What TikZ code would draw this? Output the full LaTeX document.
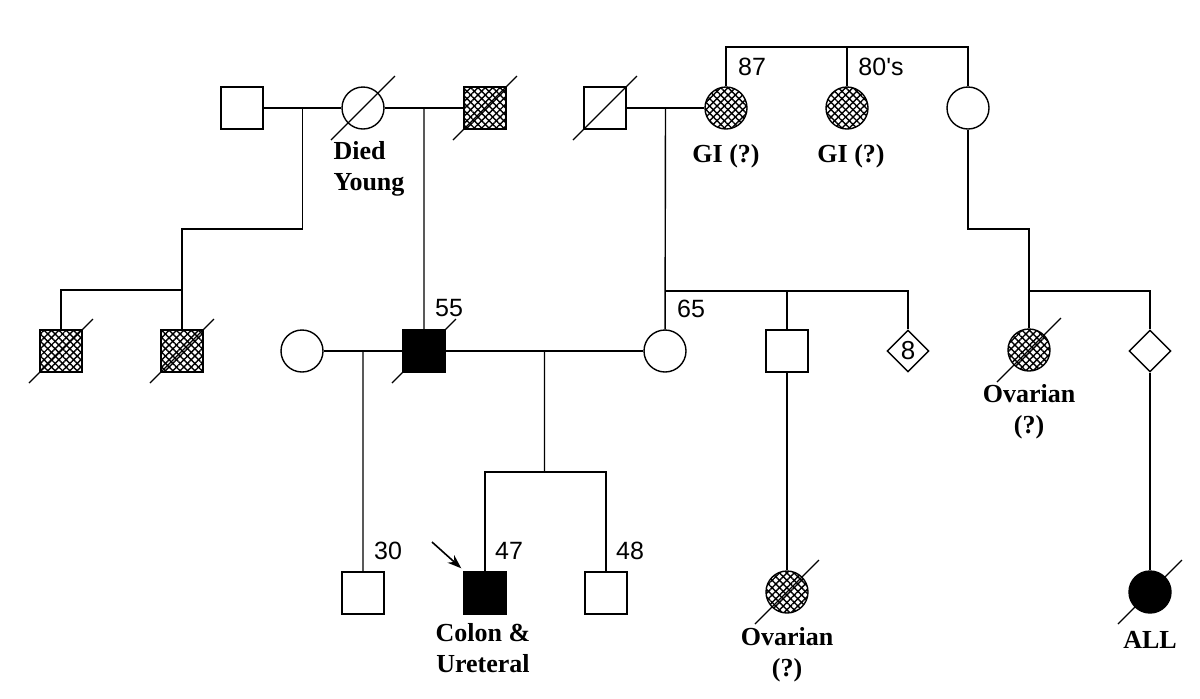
\documentclass[tikz,border=0pt]{standalone}
\usepackage{fontspec}
\setmainfont{Liberation Serif}
\newfontfamily\agefont{Liberation Sans}
\usetikzlibrary{calc,patterns.meta,arrows.meta,shapes.geometric}
\tikzset{
  person/.style={draw,line width=0.7pt,inner sep=0pt,minimum size=21pt},
  male/.style={person,rectangle},
  female/.style={person,circle},
  unknown/.style={person,diamond,aspect=1},
  affected/.style={fill=black},
  hatched/.style={preaction={pattern={Lines[angle=45,distance=2.6pt,line width=0.7pt]}},
    pattern={Lines[angle=-45,distance=2.6pt,line width=0.7pt]}},
  lbl/.style={font=\bfseries\fontsize{13}{15.5}\selectfont,align=center,inner sep=0pt},
  age/.style={font=\agefont\fontsize{12.5}{14}\selectfont,inner sep=0pt},
}
\begin{document}
\begin{tikzpicture}[x=0.5pt,y=-0.5pt,line width=0.7pt]
	\useasboundingbox[fill=white] (0,0) rectangle (1200,698);
	% generation I
	\node[male] (gf1) at (242,108) {};
	\node[female] (gm1) at (363,108) {};
	\node[male,hatched] (gf2) at (485,108) {};
	\node[male] (gf3) at (605,108) {};
	\node[female,hatched] (ga1) at (726,108) {};
	\node[female,hatched] (ga2) at (847,108) {};
	\node[female] (ga3) at (968,108) {};
	% generation II
	\node[male,hatched] (u1) at (61,351) {};
	\node[male,hatched] (u2) at (182,351) {};
	\node[female] (w1) at (302,351) {};
	\node[male,affected] (fa) at (424,351) {};
	\node[female] (mo) at (665,351) {};
	\node[male] (unc) at (787,351) {};
	\node[unknown,font=\agefont\fontsize{13}{14}\selectfont] (sibs) at (908,351) {8};
	\node[female,hatched] (cs1) at (1029,350) {};
	\node[unknown] (cs2) at (1150,351) {};
	% generation III
	\node[male] (hb) at (363,593) {};
	\node[male,affected] (pro) at (485,593) {};
	\node[male] (br) at (606,593) {};
	\node[female,hatched] (cs3) at (787,592) {};
	\node[female,affected] (cs4) at (1150,592) {};
	% deceased
	\foreach \n in {gm1,gf2,gf3,u1,u2,fa,cs1,cs3,cs4}
		\draw [line width=0.6pt] ([shift={(-32,32)}]\n.center) -- ([shift={(32,-32)}]\n.center);
	% marriages
	\draw (gf1) -- (gm1);
	\draw (gm1) -- (gf2);
	\draw (gf3) -- (ga1);
	\draw (w1) -- (fa);
	\draw (fa) -- (mo);
	\coordinate (mar1) at ($(gf1.east)!0.5!(gm1.west)$);
	\coordinate (mar2) at ($(gm1.east)!0.5!(gf2.west)$);
	\coordinate (mar3) at ($(gf3.east)!0.5!(ga1.west)$);
	\coordinate (mar4) at ($(w1.east)!0.5!(fa.west)$);
	\coordinate (mar5) at ($(fa.east)!0.5!(mo.west)$);
	% descent lines
	\coordinate (sib1) at (182,290);
	\coordinate (sib2) at (666,291);
	\coordinate (sib3) at (1029,291);
	\coordinate (sib4) at (544.5,472);
	\coordinate (top) at (847,47);
	\draw (mar1) -- ++(0,121) -| (u2);
	\draw (u1) |- (sib1);
	\draw (mar2) -- (fa);
	\draw (mar3) -- (mo);
	\draw (sib2) -| (sibs);
	\draw (unc) -- (unc |- sib2);
	\draw (ga1) |- (top) -| (ga3);
	\draw (ga2) -- (top);
	\draw (ga3) -- ++(0,121) -| (sib3) -- (cs1);
	\draw (sib3) -| (cs2);
	\draw (mar4) -- (hb);
	\draw (mar5) -- (sib4);
	\draw (pro) |- (sib4) -| (br);
	\draw (unc) -- (cs3);
	\draw (cs2) -- (cs4);
	% proband arrow
	\coordinate (arr) at (432,542);
	\draw [-{Stealth[length=7pt,width=5pt]},line width=0.8pt] (arr) -- ([shift={(-2,-3)}]pro.north west);
	% ages
	\node[age] (a87) at (752,67) {87};
	\node[age] (a80) at (881,67) {80's};
	\node[age] (a55) at (449,308) {55};
	\node[age] (a65) at (691,309) {65};
	\node[age] (a30) at (388,551) {30};
	\node[age] (a47) at (509,551) {47};
	\node[age] (a48) at (630,551) {48};
	% diagnoses
	\node[lbl,align=left] (dy) at (369,169) {Died\\Young};
	\node[lbl] (gi1) at (726,156) {GI (?)};
	\node[lbl] (gi2) at (851,156) {GI (?)};
	\node[lbl] (ov1) at (1029,412) {Ovarian\\(?)};
	\node[lbl] (ov2) at (787,655) {Ovarian\\(?)};
	\node[lbl] (col) at (483,648) {Colon \&\\Ureteral};
	\node[lbl] (all) at (1150,640) {ALL};
\end{tikzpicture}
\end{document}
